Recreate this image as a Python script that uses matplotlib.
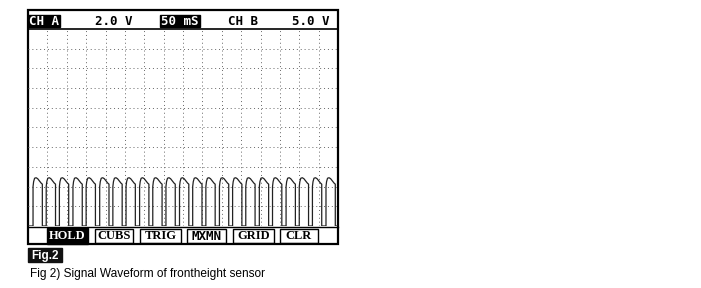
import numpy as np
import matplotlib.pyplot as plt
from matplotlib.patches import Rectangle

# scope settings shown in the header
header_labels = ["CH A", "2.0 V", "50 mS", "CH B", "5.0 V"]
header_inverted = [True, False, True, False, False]
button_labels = ["HOLD", "CUBS", "TRIG", "MXMN", "GRID", "CLR"]

# rising edge times of each pulse (ms)
rise_ms = [13, 47, 81, 116, 150, 185, 219, 253, 288, 322, 356, 391, 425,
           459, 494, 528, 562, 597, 631, 666, 700, 734, 769]
# one pulse, relative to its rising edge: time (ms) and level (V)
pulse_t = [0, 0, 1.5, 4, 8, 12, 17, 21, 24, 24]
pulse_v = [0, 4.0, 4.5, 4.85, 4.9, 4.8, 4.55, 4.35, 4.25, 0]

W, H = 701, 288
fig = plt.figure(figsize=(W / 100, H / 100), dpi=100)
bg = fig.add_axes([0, 0, 1, 1])
bg.set_xlim(0, W)
bg.set_ylim(H, 0)
bg.axis("off")

# outer frame and separators
bg.add_patch(Rectangle((28, 10), 310, 234, fill=False, ec="black", lw=1.6))
bg.plot([28, 338], [28.5, 28.5], color="black", lw=1.2)
bg.plot([28, 338], [226.5, 226.5], color="black", lw=1.0)

# header text
hx = [28, 92, 160, 230, 292]
hw = [32, 43, 40, 27, 38]
for x, w, lab, inv in zip(hx, hw, header_labels, header_inverted):
    if inv:
        bg.add_patch(Rectangle((x, 15), w, 12, color="black"))
    bg.text(x + w / 2, 21.5, lab, ha="center", va="center",
            family="DejaVu Sans Mono", fontweight="bold", fontsize=9,
            color="white" if inv else "black")

# soft-key buttons
bx = [47, 95, 140, 187, 233, 280]
bw = [41, 38, 41, 39, 41, 38]
for i, (x, w, lab) in enumerate(zip(bx, bw, button_labels)):
    if i == 0:
        bg.add_patch(Rectangle((x, 228), w, 15.5, color="black"))
        col = "white"
    else:
        bg.add_patch(Rectangle((x, 228.5), w, 14.5, fill=False, ec="black", lw=1.0))
        col = "black"
    fam = "DejaVu Sans Mono" if lab == "MXMN" else "Liberation Serif"
    bg.text(x + w / 2, 236, lab, ha="center", va="center", family=fam,
            fontweight="bold", fontsize=9, color=col)

# caption
bg.add_patch(Rectangle((28, 248), 34, 14, color="#111111"))
bg.text(45, 255.5, "Fig.2", ha="center", va="center", family="Liberation Sans",
        fontweight="bold", fontsize=8.5, color="white")
bg.text(30, 274, "Fig 2) Signal Waveform of frontheight sensor", ha="left",
        va="center", family="Liberation Sans", fontsize=8.6, color="black")

# waveform area
ax = fig.add_axes([28 / W, (H - 226) / H, 310 / W, 197 / H])
ax.set_xlim(0, 800)
ax.set_ylim(0, 20)
ax.set_xticks(np.arange(50, 800, 50))
ax.set_yticks(np.arange(2, 20, 2))
ax.grid(True, color="#666666", linestyle=(0, (1, 3)), lw=0.7)
ax.tick_params(length=0, labelbottom=False, labelleft=False)
for s in ax.spines.values():
    s.set_visible(False)
ax.patch.set_alpha(0)

t, v = [0], [0]
for r in rise_ms:
    t += [r + p for p in pulse_t]
    v += pulse_v
t.append(800)
v.append(0)
ax.plot(t, v, color="#222222", lw=0.9, clip_on=True)

fig.savefig("out.png", dpi=100)
